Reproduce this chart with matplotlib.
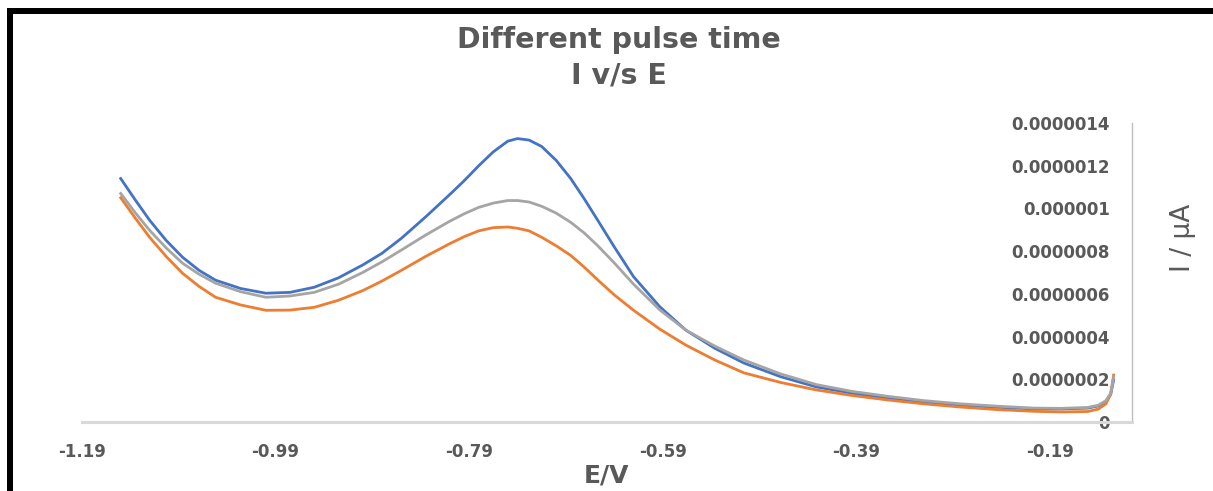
# Different pulse time - I v/s E (Excel style chart, y axis on the right)
import matplotlib
matplotlib.use("Agg")
import matplotlib.pyplot as plt
from matplotlib.patches import Rectangle

# potential (V)
potential = [-1.15, -1.135, -1.12, -1.103, -1.086, -1.069, -1.052, -1.026, -1.0, -0.975,
             -0.95, -0.925, -0.90, -0.88, -0.86, -0.835, -0.81, -0.795, -0.78, -0.765,
             -0.75, -0.74, -0.728, -0.715, -0.70, -0.685, -0.671, -0.657, -0.64, -0.62,
             -0.593, -0.566, -0.536, -0.506, -0.468, -0.431, -0.394, -0.357, -0.32,
             -0.282, -0.244, -0.206, -0.178, -0.151, -0.14, -0.132, -0.127, -0.124]

# current (A) for the three pulse times
series_blue = [1.14e-6, 1.04e-6, 0.944e-6, 0.85e-6, 0.771e-6, 0.71e-6, 0.664e-6, 0.625e-6,
               0.603e-6, 0.607e-6, 0.631e-6, 0.675e-6, 0.735e-6, 0.79e-6, 0.86e-6, 0.96e-6,
               1.065e-6, 1.13e-6, 1.2e-6, 1.265e-6, 1.315e-6, 1.327e-6, 1.32e-6, 1.29e-6,
               1.225e-6, 1.14e-6, 1.045e-6, 0.944e-6, 0.82e-6, 0.68e-6,
               0.54e-6, 0.43e-6, 0.345e-6, 0.276e-6, 0.212e-6, 0.164e-6, 0.135e-6, 0.112e-6,
               0.094e-6, 0.079e-6, 0.069e-6, 0.061e-6, 0.061e-6, 0.065e-6, 0.075e-6,
               0.095e-6, 0.13e-6, 0.196e-6]
series_orange = [1.05e-6, 0.955e-6, 0.864e-6, 0.775e-6, 0.696e-6, 0.635e-6, 0.584e-6, 0.548e-6,
                 0.523e-6, 0.524e-6, 0.537e-6, 0.57e-6, 0.615e-6, 0.66e-6, 0.71e-6, 0.775e-6,
                 0.835e-6, 0.868e-6, 0.895e-6, 0.91e-6, 0.913e-6, 0.907e-6, 0.895e-6, 0.865e-6,
                 0.825e-6, 0.78e-6, 0.725e-6, 0.665e-6, 0.595e-6, 0.523e-6,
                 0.435e-6, 0.36e-6, 0.29e-6, 0.23e-6, 0.185e-6, 0.15e-6, 0.124e-6, 0.103e-6,
                 0.085e-6, 0.07e-6, 0.058e-6, 0.05e-6, 0.047e-6, 0.049e-6, 0.06e-6,
                 0.085e-6, 0.13e-6, 0.22e-6]
series_gray = [1.07e-6, 0.98e-6, 0.897e-6, 0.815e-6, 0.743e-6, 0.692e-6, 0.65e-6, 0.61e-6,
               0.584e-6, 0.59e-6, 0.607e-6, 0.645e-6, 0.70e-6, 0.75e-6, 0.805e-6, 0.875e-6,
               0.94e-6, 0.975e-6, 1.005e-6, 1.025e-6, 1.037e-6, 1.037e-6, 1.03e-6, 1.01e-6,
               0.978e-6, 0.935e-6, 0.885e-6, 0.825e-6, 0.745e-6, 0.645e-6,
               0.525e-6, 0.43e-6, 0.355e-6, 0.29e-6, 0.225e-6, 0.175e-6, 0.143e-6, 0.12e-6,
               0.1e-6, 0.085e-6, 0.074e-6, 0.065e-6, 0.064e-6, 0.068e-6, 0.078e-6,
               0.1e-6, 0.135e-6, 0.21e-6]

x_ticks = [-1.19, -0.99, -0.79, -0.59, -0.39, -0.19]
y_ticks = [0, 0.0000002, 0.0000004, 0.0000006, 0.0000008, 0.000001, 0.0000012, 0.0000014]
y_tick_labels = ["0", "0.0000002", "0.0000004", "0.0000006", "0.0000008",
                 "0.000001", "0.0000012", "0.0000014"]

text_grey = "#595959"

fig = plt.figure(figsize=(12.13, 4.91), dpi=100)
fig.patch.set_facecolor("white")
ax = fig.add_axes([82 / 1213, 1 - 422 / 491, (1132 - 82) / 1213, (422 - 123) / 491])

ax.plot(potential, series_blue, color="#4472C4", lw=2.0, solid_joinstyle="round")
ax.plot(potential, series_orange, color="#ED7D31", lw=2.0, solid_joinstyle="round")
ax.plot(potential, series_gray, color="#A5A5A5", lw=2.0, solid_joinstyle="round")

ax.set_xlim(-1.19, -0.105)
ax.set_ylim(0, 0.0000014)

# spines: only bottom (light, thick) and right (thin)
for side in ["top", "left"]:
    ax.spines[side].set_visible(False)
ax.spines["bottom"].set_color("#D9D9D9")
ax.spines["bottom"].set_linewidth(2.2)
ax.spines["right"].set_color("#BFBFBF")
ax.spines["right"].set_linewidth(1.0)

ax.set_xticks(x_ticks)
ax.set_xticklabels([f"{v:.2f}" for v in x_ticks])
ax.yaxis.tick_right()
ax.set_yticks(y_ticks)
ax.set_yticklabels(y_tick_labels)
ax.tick_params(axis="x", length=0, pad=15, labelsize=12, labelcolor=text_grey)
ax.tick_params(axis="y", length=0, pad=-16, labelsize=12, labelcolor=text_grey)
for lab in ax.get_xticklabels() + ax.get_yticklabels():
    lab.set_fontweight("bold")
for lab in ax.get_yticklabels():
    lab.set_ha("right")

ax.set_xlabel("E/V", fontsize=18, fontweight="bold", color=text_grey, labelpad=2)

fig.text(619 / 1213, 1 - 40 / 491, "Different pulse time", ha="center", va="center",
         fontsize=20.5, fontweight="bold", color=text_grey)
fig.text(619 / 1213, 1 - 76 / 491, "I v/s E", ha="center", va="center",
         fontsize=20.5, fontweight="bold", color=text_grey)
fig.text(1183 / 1213, 1 - 238 / 491, "I / µA", ha="center", va="center", rotation=90,
         fontsize=19, color=text_grey)

# black frame on top and left edges of the screenshot
fig.add_artist(Rectangle((7 / 1213, 1 - 14 / 491), 1.0, 6 / 491, transform=fig.transFigure,
                         facecolor="black", edgecolor="none"))
fig.add_artist(Rectangle((7 / 1213, 0), 6 / 1213, 1 - 8 / 491, transform=fig.transFigure,
                         facecolor="black", edgecolor="none"))

fig.savefig("out.png", dpi=100, facecolor="white")
